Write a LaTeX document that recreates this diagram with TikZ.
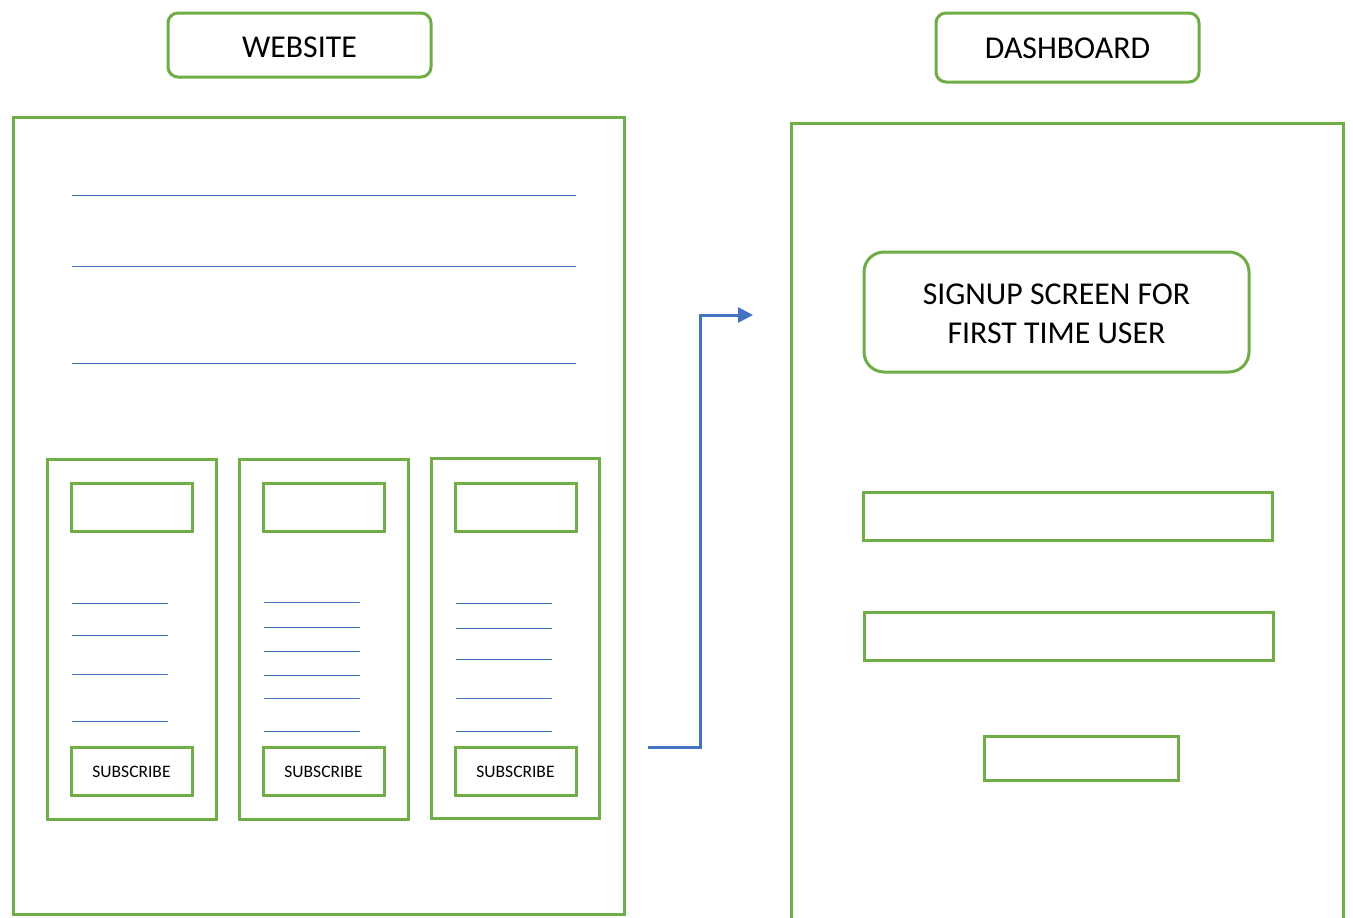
\documentclass[tikz,border=0pt]{standalone}
\usepackage{fontspec}
\setmainfont{Carlito}
\usetikzlibrary{arrows.meta}
\definecolor{frgreen}{HTML}{70AD47}
\definecolor{lnblue}{HTML}{4472C4}
\tikzset{
  gbox/.style={draw=frgreen, line width=3pt, inner sep=0pt, outer sep=0pt, anchor=north west},
  rbox/.style={gbox, rounded corners=10pt},
  bline/.style={draw=lnblue, line width=1pt},
  conn/.style={draw=lnblue, line width=3pt, -{Triangle[length=15pt,width=15pt]}},
  big/.style={font=\fontsize{31.8}{39}\selectfont, align=center},
  small/.style={font=\fontsize{17.5}{20}\selectfont}
}
\begin{document}
\begin{tikzpicture}[x=1pt,y=-1pt]
\useasboundingbox[fill=white] (0,0) rectangle (1353,918);
% titles
\node[rbox, minimum width=263pt, minimum height=64pt] (webt) at (168,13) {};
\node[big] (webtxt) at ([yshift=-2pt]webt.center) {WEBSITE};
\node[rbox, minimum width=263pt, minimum height=69pt] (dasht) at (936,13) {};
\node[big] (dashtxt) at ([yshift=-1pt]dasht.center) {DASHBOARD};
% website frame
\node[gbox, minimum width=611pt, minimum height=797pt] (web) at (13,117) {};
\draw[bline] (72,195) coordinate (l1a) -- (576,195) coordinate (l1b);
\draw[bline] (72,266) coordinate (l2a) -- (576,266) coordinate (l2b);
\draw[bline] (72,363) coordinate (l3a) -- (576,363) coordinate (l3b);
% cards
\node[gbox, minimum width=169pt, minimum height=360pt] (c1) at (47,459) {};
\node[gbox, minimum width=169pt, minimum height=360pt] (c2) at (239,459) {};
\node[gbox, minimum width=168pt, minimum height=360pt] (c3) at (431,458) {};
\node[gbox, minimum width=121pt, minimum height=48pt] (h1) at (71,483) {};
\node[gbox, minimum width=121pt, minimum height=48pt] (h2) at (263,483) {};
\node[gbox, minimum width=121pt, minimum height=48pt] (h3) at (455,483) {};
\node[gbox, minimum width=121pt, minimum height=48pt] (s1) at (71,747) {};
\node[gbox, minimum width=121pt, minimum height=48pt] (s2) at (263,747) {};
\node[gbox, minimum width=121pt, minimum height=48pt] (s3) at (455,747) {};
\node[small] at ([yshift=-1pt]s1.center) {SUBSCRIBE};
\node[small] at ([yshift=-1pt]s2.center) {SUBSCRIBE};
\node[small] at ([yshift=-1pt]s3.center) {SUBSCRIBE};
\foreach \y in {603,635,674,721} \draw[bline] (72,\y) -- (168,\y);
\foreach \y in {602,627,651,675,698,731} \draw[bline] (264,\y) -- (360,\y);
\foreach \y in {603,628,659,698,731} \draw[bline] (456,\y) -- (552,\y);
% dashboard frame (open at bottom)
\draw[draw=frgreen, line width=3pt] (791,920) -- (791,123) -- (1343,123) -- (1343,920);
\node[rbox, rounded corners=20pt, minimum width=385pt, minimum height=120pt] (sign) at (864,252) {};
\node[big] at ([yshift=-2pt]sign.center) {SIGNUP SCREEN FOR\\FIRST TIME USER};
\node[gbox, minimum width=409pt, minimum height=48pt] (in1) at (863,492) {};
\node[gbox, minimum width=409pt, minimum height=48pt] (in2) at (864,612) {};
\node[gbox, minimum width=194pt, minimum height=44pt] (btn) at (984,736) {};
% connector
\coordinate (cs) at (648,747);
\coordinate (ce) at (753,315);
\draw[conn] (cs) -- (700,747) -- (700,315) -- (ce);
\end{tikzpicture}
\end{document}
